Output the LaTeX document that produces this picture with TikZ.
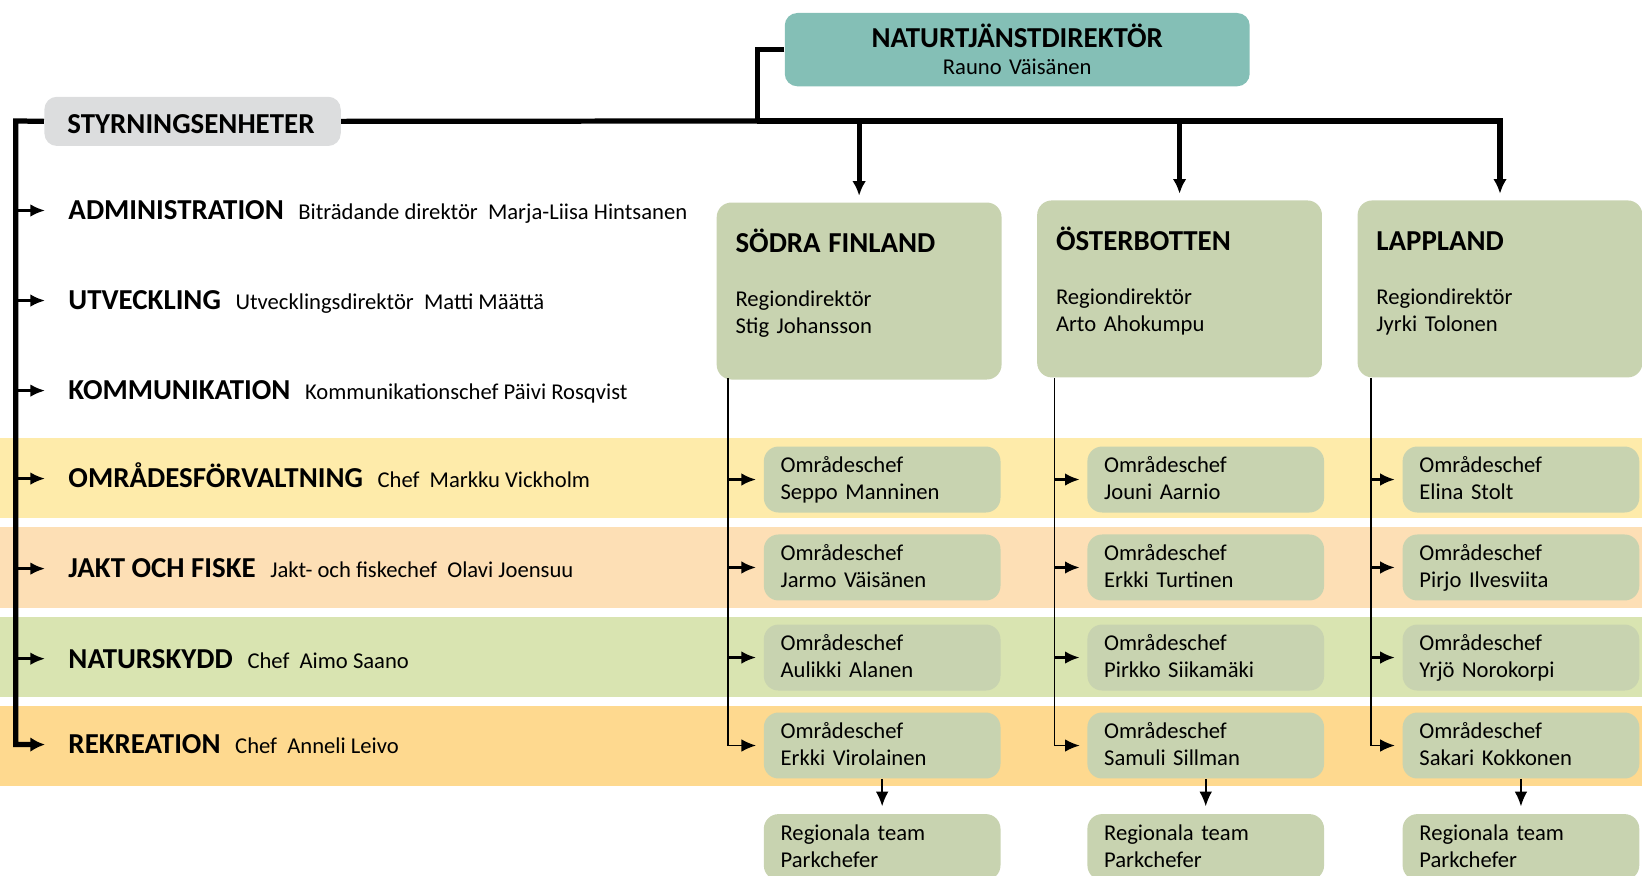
\documentclass[tikz,border=0pt]{standalone}
\usepackage{fontspec}
\setmainfont{Carlito}
\usetikzlibrary{arrows.meta}
\definecolor{tealbox}{HTML}{84BFB6}
\definecolor{sagebox}{HTML}{C8D3B0}
\definecolor{greybox}{HTML}{DCDDDE}
\definecolor{bandyellow}{HTML}{FEEBAA}
\definecolor{bandpeach}{HTML}{FDDFB5}
\definecolor{bandgreen}{HTML}{D9E4B1}
\definecolor{bandorange}{HTML}{FED98F}
\newcommand{\unittitle}[1]{{\fontsize{13.8}{16}\selectfont\bfseries #1}}
\tikzstyle{node:director}=[rounded corners=6pt,fill=tealbox,anchor=north west,inner sep=0pt,text width=222pt,align=center,text height=16.25pt,text depth=18.75pt]
\tikzstyle{node:steering}=[rounded corners=6pt,fill=greybox,anchor=north west,inner xsep=11pt,inner ysep=0pt,text width=119.5pt,align=left,text height=17.5pt,text depth=6pt]
\tikzstyle{node:unit}=[anchor=west,inner xsep=11pt,inner ysep=0pt,text height=8.9pt,text depth=0pt]
\tikzstyle{node:region}=[rounded corners=7pt,fill=sagebox,anchor=north west,inner xsep=9pt,inner ysep=0pt,text width=118pt,align=left,text height=24pt,text depth=60.5pt]
\tikzstyle{node:area}=[rounded corners=7pt,fill=sagebox,anchor=north west,inner xsep=8pt,inner ysep=0pt,text width=97pt,align=left,text height=12.5pt,text depth=19pt]
\tikzstyle{draw:trunk}=[line width=2.5pt]
\tikzstyle{draw:trunkarrow}=[line width=2.5pt,-{Latex[length=7pt,width=6.5pt]},shorten >=3pt]
\tikzstyle{draw:stub}=[line width=1.2pt,-{Latex[length=7pt,width=6pt]}]
\tikzstyle{draw:branch}=[line width=0.8pt,-{Latex[length=7pt,width=6pt]},shorten >=3.5pt]

\begin{document}
\begin{tikzpicture}[x=0.5pt,y=-0.5pt,font=\fontsize{10.8}{13}\selectfont]
        \useasboundingbox (0,0) rectangle (1568,835.6);

        % Bands
        \fill[bandyellow] (0,418) rectangle (1568,495);
        \fill[bandpeach] (0,503) rectangle (1568,581);
        \fill[bandgreen] (0,589) rectangle (1568,666);
        \fill[bandorange] (0,674) rectangle (1568,751);

        % Director and steering units
        \node[node:director] (dir) at (749,12) {\unittitle{NATURTJÄNSTDIREKTÖR}\\Rauno Väisänen};
        \node[node:steering] (styr) at (42,92) {\unittitle{STYRNINGSENHETER}};

        % Units
        \node[node:unit] (adm) at (43,201) {\unittitle{ADMINISTRATION}\hspace{7pt}Biträdande direktör~~Marja-Liisa Hintsanen};
        \node[node:unit] (utv) at (43,287) {\unittitle{UTVECKLING}\hspace{7pt}Utvecklingsdirektör~~Matti Määttä};
        \node[node:unit] (kom) at (43,373) {\unittitle{KOMMUNIKATION}\hspace{7pt}Kommunikationschef Päivi Rosqvist};
        \node[node:unit] (omr) at (43,457) {\unittitle{OMRÅDESFÖRVALTNING}\hspace{7pt}Chef~~Markku Vickholm};
        \node[node:unit] (jakt) at (43,543) {\unittitle{JAKT OCH FISKE}\hspace{7pt}Jakt- och fiskechef~~Olavi Joensuu};
        \node[node:unit] (nat) at (43,629) {\unittitle{NATURSKYDD}\hspace{7pt}Chef~~Aimo Saano};
        \node[node:unit] (rek) at (43,711) {\unittitle{REKREATION}\hspace{7pt}Chef~~Anneli Leivo};

        % Regions
        \node[node:region] (sf) at (684,193) {\unittitle{SÖDRA FINLAND}\\[12.5pt]Regiondirektör\\Stig Johansson};
        \node[node:region] (ob) at (990,191) {\unittitle{ÖSTERBOTTEN}\\[12.5pt]Regiondirektör\\Arto Ahokumpu};
        \node[node:region] (la) at (1296,191) {\unittitle{LAPPLAND}\\[12.5pt]Regiondirektör\\Jyrki Tolonen};

        % Area chiefs
        \node[node:area] (sf1) at (729,426) {Områdeschef\\Seppo Manninen};
        \node[node:area] (sf2) at (729,510) {Områdeschef\\Jarmo Väisänen};
        \node[node:area] (sf3) at (729,596) {Områdeschef\\Aulikki Alanen};
        \node[node:area] (sf4) at (729,680) {Områdeschef\\Erkki Virolainen};
        \node[node:area] (ob1) at (1038,426) {Områdeschef\\Jouni Aarnio};
        \node[node:area] (ob2) at (1038,510) {Områdeschef\\Erkki Turtinen};
        \node[node:area] (ob3) at (1038,596) {Områdeschef\\Pirkko Siikamäki};
        \node[node:area] (ob4) at (1038,680) {Områdeschef\\Samuli Sillman};
        \node[node:area] (la1) at (1339,426) {Områdeschef\\Elina Stolt};
        \node[node:area] (la2) at (1339,510) {Områdeschef\\Pirjo Ilvesviita};
        \node[node:area] (la3) at (1339,596) {Områdeschef\\Yrjö Norokorpi};
        \node[node:area] (la4) at (1339,680) {Områdeschef\\Sakari Kokkonen};

        % Regional teams
        \node[node:area] (sft) at (729,777) {Regionala team\\Parkchefer};
        \node[node:area] (obt) at (1038,777) {Regionala team\\Parkchefer};
        \node[node:area] (lat) at (1339,777) {Regionala team\\Parkchefer};

        % Trunk lines
        \coordinate (jn) at (723,115.5);
        \coordinate (spine) at (15,115.5);
        \draw[draw:trunk] (dir.west) -| (jn);
        \draw[draw:trunk] (styr.east) -- (jn);
        \draw[draw:trunkarrow] (jn) -| (sf.north);
        \draw[draw:trunkarrow] (jn) -| (ob.north);
        \draw[draw:trunkarrow] (jn) -| (la.north);

        % Spine to the units
        \draw[draw:trunk,-{Latex[length=7pt,width=7pt]}] (styr.west) -- (spine) |- (rek.west);
        \draw[draw:stub] (spine |- adm.west) -- (adm.west);
        \draw[draw:stub] (spine |- utv.west) -- (utv.west);
        \draw[draw:stub] (spine |- kom.west) -- (kom.west);
        \draw[draw:stub] (spine |- omr.west) -- (omr.west);
        \draw[draw:stub] (spine |- jakt.west) -- (jakt.west);
        \draw[draw:stub] (spine |- nat.west) -- (nat.west);

        % Branches to the area chiefs
        \coordinate (sfbus) at (695,361);
        \coordinate (obbus) at (1007,361);
        \coordinate (labus) at (1309,361);
        \draw[draw:branch] (sfbus) |- (sf4.west);
        \draw[draw:branch,line width=1.2pt] (sfbus |- sf1.west) -- (sf1.west);
        \draw[draw:branch,line width=1.2pt] (sfbus |- sf2.west) -- (sf2.west);
        \draw[draw:branch,line width=1.2pt] (sfbus |- sf3.west) -- (sf3.west);
        \draw[draw:branch] (obbus) |- (ob4.west);
        \draw[draw:branch,line width=1.2pt] (obbus |- ob1.west) -- (ob1.west);
        \draw[draw:branch,line width=1.2pt] (obbus |- ob2.west) -- (ob2.west);
        \draw[draw:branch,line width=1.2pt] (obbus |- ob3.west) -- (ob3.west);
        \draw[draw:branch] (labus) |- (la4.west);
        \draw[draw:branch,line width=1.2pt] (labus |- la1.west) -- (la1.west);
        \draw[draw:branch,line width=1.2pt] (labus |- la2.west) -- (la2.west);
        \draw[draw:branch,line width=1.2pt] (labus |- la3.west) -- (la3.west);

        % Area chiefs to regional teams
        \draw[draw:branch] (sf4.south) -- (sft.north);
        \draw[draw:branch] (ob4.south) -- (obt.north);
        \draw[draw:branch] (la4.south) -- (lat.north);

\end{tikzpicture}
\end{document}
